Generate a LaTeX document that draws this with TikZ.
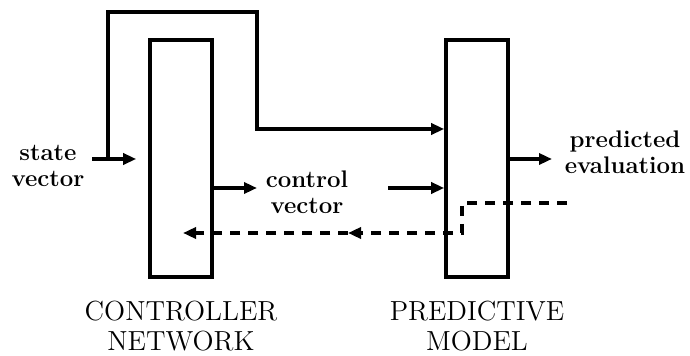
\documentclass[tikz,border=0pt]{standalone}
\usepackage{tikz}
\usetikzlibrary{arrows.meta,positioning}

\begin{document}
\begin{tikzpicture}[
  x=0.5pt, y=-0.5pt,
  block/.style={draw, line width=1.8pt, minimum width=31pt, minimum height=118.5pt, inner sep=0pt},
  lbl/.style={font=\fontsize{12}{13}\selectfont\bfseries, align=center, inner sep=0pt},
  unitname/.style={font=\fontsize{13.8}{15}\selectfont, align=center, inner sep=0pt},
  arrow/.style={-{Triangle[length=6.5pt,width=5.5pt]}, line width=1.8pt},
  feedback/.style={arrow, dash pattern=on 5pt off 4pt}
]
\useasboundingbox (0,0) rectangle (690,356);

\node[block] (ctrl) at (181,158.5) {};
\node[block] (model) at (477,158.5) {};
\node[unitname, below=11pt of ctrl] (ctrlname) {CONTROLLER\\ NETWORK};
\node[unitname, below=11pt of model] (modelname) {PREDICTIVE\\ MODEL};

\node[lbl] (state) at (48,166) {state\\ vector};
\node[lbl] (control) at (307,192) {control\\ vector};
\node[lbl] (pred) at (625,152) {predicted\\ evaluation};

% fixed points of the connectors
\coordinate (sv) at (92,159);
\coordinate (split) at (108,159);
\coordinate (loopl) at (108,12);
\coordinate (loopr) at (257,12);
\coordinate (bend) at (257,129);
\coordinate (cvl) at (257,188);
\coordinate (cvr) at (388,188);
\coordinate (pe) at (552,159);
\coordinate (fbin) at (567,203);
\coordinate (fbstep) at (462,233);
\coordinate (fbmid) at (348,233);
\coordinate (fbend) at (183,233);

\draw[arrow, shorten >=6pt] (sv) -- (sv -| ctrl.west);
\draw[arrow] (split) -- (loopl) -- (loopr) -- (bend) -- (bend -| model.west);
\draw[arrow] (cvl -| ctrl.east) -- (cvl);
\draw[arrow] (cvr) -- (cvr -| model.west);
\draw[arrow] (pe -| model.east) -- (pe);

\draw[feedback] (fbin) -- (fbin -| fbstep) -- (fbstep) -- (fbmid);
\draw[feedback] (fbmid) -- (fbend);

\end{tikzpicture}
\end{document}
